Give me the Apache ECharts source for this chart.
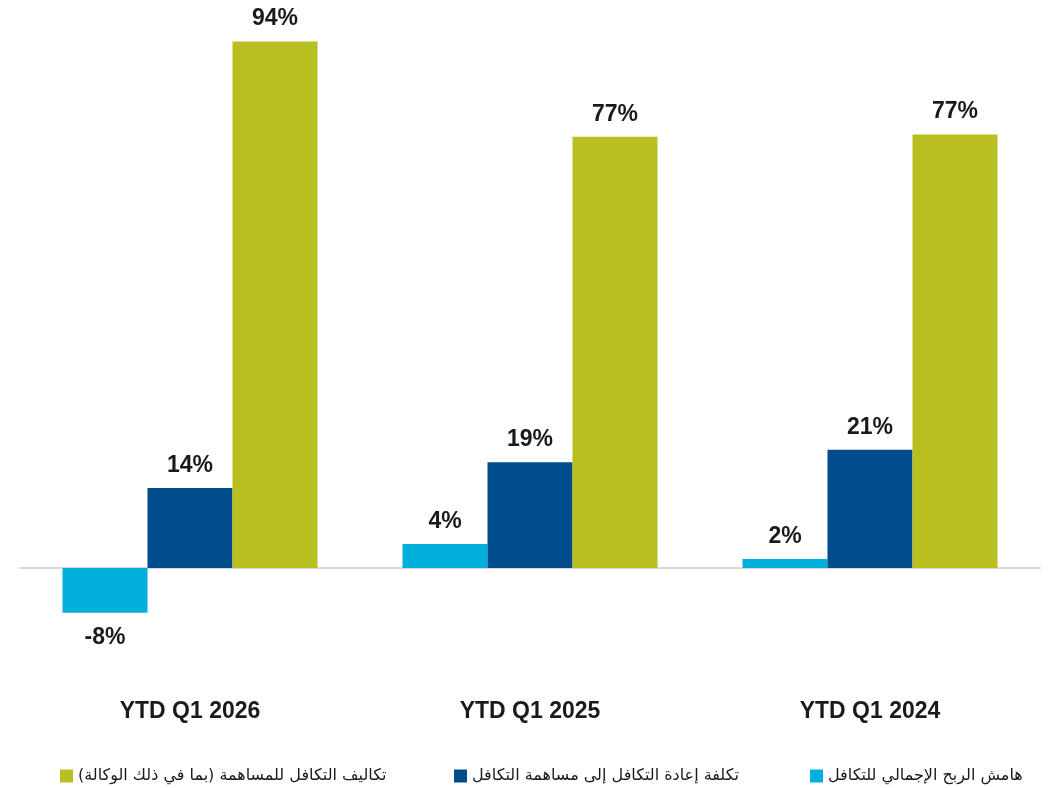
<!DOCTYPE html>
<html lang="ar">
<head>
    <meta charset="UTF-8">
    <title>Takaful ratios</title>
    <script src="https://cdn.jsdelivr.net/npm/echarts@6/dist/echarts.min.js"></script>
    <style>
        html, body { margin: 0; padding: 0; background: #fff; }
    </style>
</head>
<body>
    <div id="main" style="width: 1050px;height:788px;"></div>
    <script type="text/javascript">
        // categories, left to right as in the picture
        const categories = ['YTD Q1 2026', 'YTD Q1 2025', 'YTD Q1 2024'];

        const seriesNames = [
            'هامش الربح الإجمالي للتكافل',
            'تكلفة إعادة التكافل إلى مساهمة التكافل',
            'تكاليف التكافل للمساهمة (بما في ذلك الوكالة)'
        ];

        // values in %
        const grossMargin = [-8.0, 4.3, 1.6];
        const retakafulCost = [14.3, 18.9, 21.1];
        const takafulCost = [94.0, 77.0, 77.4];

        const colors = ['#00afdb', '#004c8c', '#b8bf1f'];

        let myChart = echarts.init(document.getElementById('main'));

        const labelFont = 'Liberation Sans, Arial, sans-serif';

        // negative bars get their label underneath
        function toData(values) {
            return values.map((v) => v < 0 ? { value: v, label: { position: 'bottom', distance: 13 } } : v);
        }

        function makeSeries(name, values, color) {
            return {
                name: name,
                type: 'bar',
                barGap: '0%',
                barCategoryGap: '25%',
                itemStyle: { color: color },
                label: {
                    show: true,
                    position: 'top',
                    distance: 11,
                    fontFamily: labelFont,
                    fontWeight: 'bold',
                    fontSize: 23,
                    color: '#1a1a1a',
                    formatter: (p) => Math.round(p.value) + '%'
                },
                data: toData(values)
            };
        }

        // one legend per item so each sits where it does in the picture
        const legendLefts = [805, 449, 55];
        const legends = seriesNames.map((name, i) => ({
            data: [name],
            left: legendLefts[i],
            top: 763,
            icon: 'rect',
            itemWidth: 13,
            itemHeight: 13,
            selectedMode: false,
            textStyle: {
                fontFamily: 'DejaVu Sans, Noto Sans, sans-serif',
                fontSize: 16,
                color: '#1a1a1a'
            }
        }));

        let options = {
            animation: false,
            legend: legends,
            grid: { left: 20, right: 10, top: 8, height: 616 },
            xAxis: [{
                type: 'category',
                data: categories,
                axisLine: { show: false, onZero: false },
                axisTick: { show: false },
                axisLabel: {
                    margin: 76,
                    fontFamily: labelFont,
                    fontWeight: 'bold',
                    fontSize: 23,
                    color: '#1a1a1a'
                }
            }, {
                // just the grey zero line
                type: 'category',
                position: 'bottom',
                data: categories,
                axisLine: { onZero: true, lineStyle: { color: '#d9d9d9', width: 2 } },
                axisTick: { show: false },
                axisLabel: { show: false }
            }],
            yAxis: {
                type: 'value',
                min: -10,
                max: 100,
                interval: 10,
                show: false,
                splitLine: { show: false }
            },
            series: [
                makeSeries(seriesNames[0], grossMargin, colors[0]),
                makeSeries(seriesNames[1], retakafulCost, colors[1]),
                makeSeries(seriesNames[2], takafulCost, colors[2])
            ]
        };

        myChart.setOption(options);
    </script>
</body>
</html>
